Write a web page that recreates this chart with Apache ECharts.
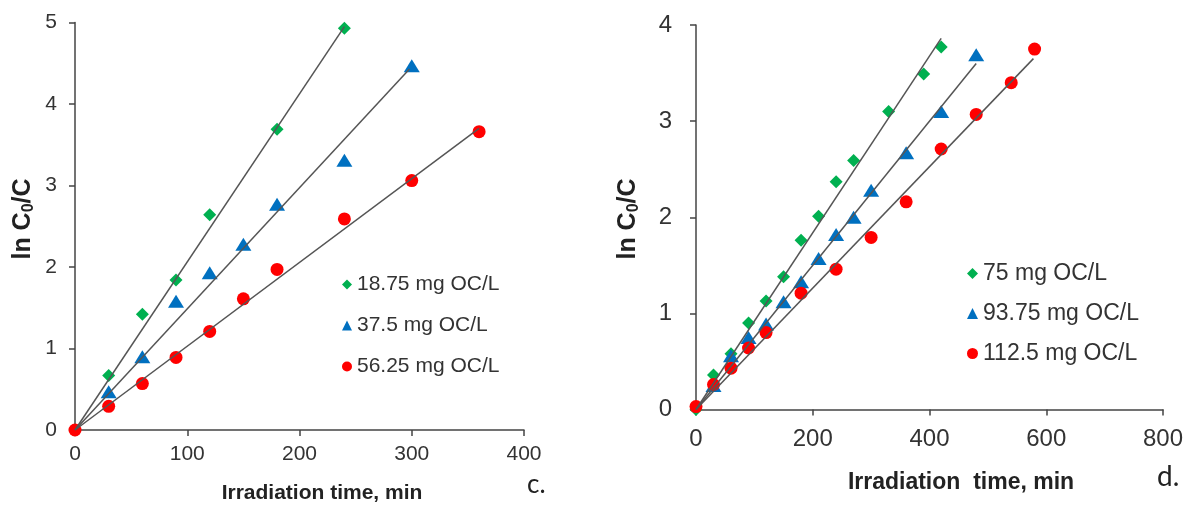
<!DOCTYPE html>
<html>
<head>
<meta charset="utf-8">
<title>Irradiation kinetics</title>
<script src="https://cdn.jsdelivr.net/npm/echarts@6/dist/echarts.min.js"></script>
<style>
  html, body { margin: 0; padding: 0; background: #fff; }
  #chart { width: 1189px; height: 509px; }
</style>
</head>
<body>
<div id="chart"></div>
<script>
// Panel c: ln(C0/C) vs irradiation time (min)
const namesC = ['18.75 mg OC/L', '37.5 mg OC/L', '56.25 mg OC/L'];
const timeC1 = [0, 30, 60, 90, 120, 180, 240];
const lnC1 = [0, 0.67, 1.42, 1.84, 2.64, 3.69, 4.93];
const timeC2 = [0, 30, 60, 90, 120, 150, 180, 240, 300];
const lnC2 = [-0.02, 0.47, 0.90, 1.58, 1.93, 2.28, 2.77, 3.31, 4.47];
const timeC3 = [0, 30, 60, 90, 120, 150, 180, 240, 300, 360];
const lnC3 = [0, 0.29, 0.57, 0.89, 1.21, 1.61, 1.97, 2.59, 3.06, 3.66];
// end points of the linear fits (all start at the origin)
const fitEndC = [[240, 4.95], [298, 4.43], [360, 3.70]];

// Panel d
const namesD = ['75 mg OC/L', '93.75 mg OC/L', '112.5 mg OC/L'];
const timeD1 = [0, 30, 60, 90, 120, 150, 180, 210, 240, 270, 330, 390, 420];
const lnD1 = [0, 0.36, 0.58, 0.90, 1.13, 1.38, 1.76, 2.01, 2.37, 2.59, 3.10, 3.49, 3.77];
const timeD2 = [0, 30, 60, 90, 120, 150, 180, 210, 240, 270, 300, 360, 420, 480];
const lnD2 = [-0.03, 0.25, 0.56, 0.75, 0.89, 1.12, 1.33, 1.57, 1.82, 2.00, 2.28, 2.67, 3.10, 3.69];
const timeD3 = [0, 30, 60, 90, 120, 180, 240, 300, 360, 420, 480, 540, 580];
const lnD3 = [0.03, 0.26, 0.43, 0.64, 0.80, 1.21, 1.46, 1.79, 2.16, 2.71, 3.07, 3.40, 3.75];
const fitEndD = [[420, 3.86], [480, 3.60], [578, 3.65]];

// tick settings
const xTicksC = { min: 0, max: 400, interval: 100 };
const yTicksC = { min: 0, max: 5, interval: 1 };
const xTicksD = { min: 0, max: 800, interval: 200 };
const yTicksD = { min: 0, max: 4, interval: 1 };

const colors = ['#00B050', '#0070C0', '#FF0000'];
const symbols = ['diamond', 'triangle', 'circle'];
const symbolSizes = [[13, 13], [16, 13], [13, 13]];
const FONT = "'Liberation Sans', Arial, sans-serif";
const AXIS = '#444444';
const LABEL = '#333333';

const zip = (xs, ys) => xs.map((x, i) => [x, ys[i]]);

function axisBase(fontSize, margin) {
  return {
    axisLine: { show: true, onZero: false, lineStyle: { color: AXIS, width: 1.5 } },
    axisTick: { show: true, inside: false, length: 6, lineStyle: { color: AXIS, width: 1.5 } },
    splitLine: { show: false },
    axisLabel: { color: LABEL, fontSize: fontSize, fontFamily: FONT, margin: margin }
  };
}

function panelSeries(names, sets, fitEnds, idx) {
  const out = [];
  sets.forEach((d, i) => {
    out.push({
      name: names[i], type: 'scatter', xAxisIndex: idx, yAxisIndex: idx,
      symbol: symbols[i], symbolSize: symbolSizes[i],
      itemStyle: { color: colors[i], opacity: 1 },
      data: d, z: 2, silent: true
    });
  });
  fitEnds.forEach((e) => {
    out.push({
      type: 'line', xAxisIndex: idx, yAxisIndex: idx, symbol: 'none',
      lineStyle: { color: '#555555', width: 1.5 },
      data: [[0, 0], e], z: 3, silent: true
    });
  });
  return out;
}

const chart = echarts.init(document.getElementById('chart'), null, { renderer: 'canvas' });

const yTitleRich = {
  a: { font: "bold 25px " + FONT, fill: '#222', lineHeight: 28 },
  s: { font: "bold 16px " + FONT, fill: '#222', lineHeight: 28, padding: [12, 0, 0, 0] }
};

const option = {
  animation: false,
  backgroundColor: '#ffffff',
  grid: [
    { left: 75, top: 22.5, width: 449, height: 407.5 },
    { left: 696, top: 25, width: 467, height: 384.5 }
  ],
  xAxis: [
    Object.assign({ type: 'value', gridIndex: 0 }, xTicksC, axisBase(21, 14)),
    Object.assign({ type: 'value', gridIndex: 1 }, xTicksD, axisBase(24, 18))
  ],
  yAxis: [
    Object.assign({ type: 'value', gridIndex: 0 }, yTicksC, axisBase(21, 18)),
    Object.assign({ type: 'value', gridIndex: 1 }, yTicksD, axisBase(24, 24))
  ],
  legend: [
    {
      data: namesC, orient: 'vertical', left: 342, top: 274, padding: 0,
      itemWidth: 10, itemHeight: 10, itemGap: 20,
      textStyle: { fontSize: 21, fontFamily: FONT, color: LABEL, lineHeight: 21 },
      selectedMode: false
    },
    {
      data: namesD, orient: 'vertical', left: 967, top: 262, padding: 0,
      itemWidth: 11, itemHeight: 11, itemGap: 17,
      textStyle: { fontSize: 23, fontFamily: FONT, color: LABEL, lineHeight: 23 },
      selectedMode: false
    }
  ],
  series: [].concat(
    panelSeries(namesC, [zip(timeC1, lnC1), zip(timeC2, lnC2), zip(timeC3, lnC3)], fitEndC, 0),
    panelSeries(namesD, [zip(timeD1, lnD1), zip(timeD2, lnD2), zip(timeD3, lnD3)], fitEndD, 1)
  ),
  graphic: [
    {
      type: 'text', x: 322, y: 493,
      style: { text: 'Irradiation time, min', font: "bold 21px " + FONT, fill: '#222',
               textAlign: 'center', textVerticalAlign: 'middle', align: 'center', verticalAlign: 'middle' }
    },
    {
      type: 'text', x: 961, y: 483,
      style: { text: 'Irradiation  time, min', font: "bold 23px " + FONT, fill: '#222',
               textAlign: 'center', textVerticalAlign: 'middle', align: 'center', verticalAlign: 'middle' }
    },
    {
      type: 'text', x: 23, y: 219, rotation: Math.PI / 2,
      style: {
        text: '{a|ln C}{s|0}{a|/C}', fill: '#222',
        textAlign: 'center', textVerticalAlign: 'middle', align: 'center', verticalAlign: 'middle',
        rich: yTitleRich
      }
    },
    {
      type: 'text', x: 628, y: 219, rotation: Math.PI / 2,
      style: {
        text: '{a|ln C}{s|0}{a|/C}', fill: '#222',
        textAlign: 'center', textVerticalAlign: 'middle', align: 'center', verticalAlign: 'middle',
        rich: yTitleRich
      }
    },
    {
      type: 'text', x: 527, y: 485,
      style: { text: 'c.', font: "26px Lato, 'Open Sans', sans-serif", fill: '#222',
               textAlign: 'left', textVerticalAlign: 'middle', align: 'left', verticalAlign: 'middle' }
    },
    {
      type: 'text', x: 1157, y: 477,
      style: { text: 'd.', font: "28px Lato, 'Open Sans', sans-serif", fill: '#222',
               textAlign: 'left', textVerticalAlign: 'middle', align: 'left', verticalAlign: 'middle' }
    }
  ]
};

chart.setOption(option);
</script>
</body>
</html>
